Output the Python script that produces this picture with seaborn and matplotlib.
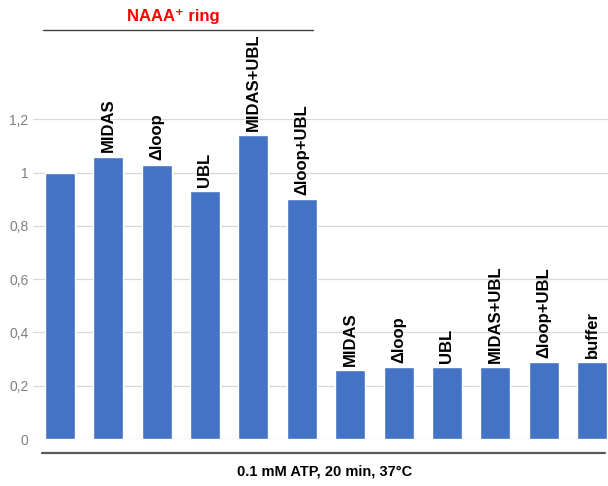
import matplotlib
matplotlib.use("Agg")
import matplotlib.pyplot as plt
import matplotlib.transforms as mtransforms
import seaborn as sns
import pandas as pd

# ---- data ----
labels = ["", "MIDAS", "\u0394loop", "UBL", "MIDAS+UBL", "\u0394loop+UBL",
          "MIDAS", "\u0394loop", "UBL", "MIDAS+UBL", "\u0394loop+UBL", "buffer"]
groups = ["ring"] * 6 + ["free"] * 6
values = [1.00, 1.06, 1.03, 0.93, 1.14, 0.90,
          0.26, 0.27, 0.27, 0.27, 0.29, 0.29]
yticks = [0, 0.2, 0.4, 0.6, 0.8, 1.0, 1.2]
ytick_labels = ["0", "0,2", "0,4", "0,6", "0,8", "1", "1,2"]
title_text = "NAAA\u207a ring"
xlabel_text = "0.1 mM ATP, 20 min, 37\u00b0C"

sample_ids = [f"{g}:{l or 'wt'}:{i}" for i, (g, l) in enumerate(zip(groups, labels))]
df = pd.DataFrame({"sample": sample_ids, "value": values})

sns.set_theme(style="white")
plt.rcParams["font.family"] = ["Liberation Sans", "DejaVu Sans"]

fig = plt.figure(figsize=(6.08, 4.86), dpi=100)
ax = fig.add_axes([0.054, 0.0967, 0.946, 0.658])

sns.barplot(data=df, x="sample", y="value", order=sample_ids, color="#4472C4",
            saturation=1, width=0.62, ax=ax, zorder=2)

ax.set_ylim(0, 1.2)
ax.set_xlim(-0.558, 11.33)
ax.set_yticks(yticks)
ax.set_yticklabels(ytick_labels, color="#7F7F7F", fontsize=10)
ax.set_xticks([])
ax.set_ylabel("")
ax.tick_params(axis="y", length=0, pad=3)
ax.yaxis.grid(True, color="#D9D9D9", linewidth=0.9, zorder=0)
ax.set_axisbelow(True)
for s in ax.spines.values():
    s.set_visible(False)

# labels above bars
for i, (lab, v) in enumerate(zip(labels, values)):
    if lab:
        ax.annotate(lab, xy=(i, v), xytext=(0, 3), textcoords="offset points",
                    rotation=90, ha="center", va="bottom", fontsize=12,
                    fontweight="bold", color="black", annotation_clip=False)

# top group line + title
ring_n = groups.count("ring")
trans = mtransforms.blended_transform_factory(ax.transData, ax.transAxes)
ax.plot([-0.35, ring_n - 1 + 0.23], [1.278, 1.278], color="#404040", lw=1.0,
        transform=trans, clip_on=False)
ax.text((ring_n - 1) / 2 - 0.15, 1.322, title_text, transform=trans, color="#FF0000",
        fontsize=12, fontweight="bold", ha="center", va="center",
        family=["Liberation Sans", "DejaVu Sans"])

# bottom line + xlabel
ax.plot([-0.37, len(values) - 1 + 0.27], [-0.044, -0.044], color="#595959", lw=1.6,
        transform=trans, clip_on=False)
ax.set_xlabel(xlabel_text, fontsize=10.5, fontweight="bold", color="black")
ax.xaxis.set_label_coords(0.508, -0.103)
ax.xaxis.label.set_va("center")

fig.savefig("out.png", dpi=100)
